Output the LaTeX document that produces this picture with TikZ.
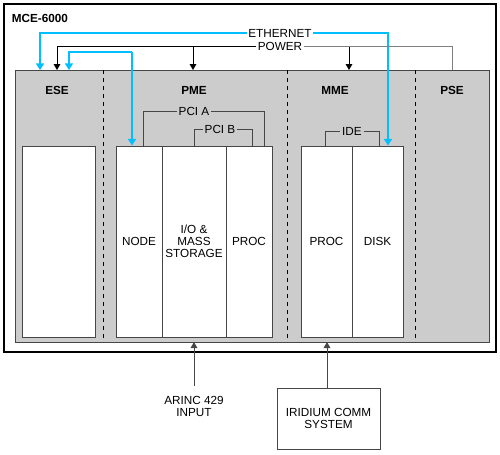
\documentclass[tikz,border=0pt]{standalone}
\usepackage{fontspec}
\setmainfont{Liberation Sans}
\usetikzlibrary{arrows.meta}
\definecolor{ethblue}{RGB}{0,190,255}
\definecolor{bay}{RGB}{204,204,204}
\definecolor{edge}{RGB}{70,70,70}
\tikzset{every picture/.style={line width=0.75pt}}
\tikzset{
  txt/.style={inner sep=1pt, align=center, font=\fontsize{8.8}{9}\selectfont},
  head/.style={txt, font=\fontsize{8.8}{9}\selectfont\bfseries},
  cell/.style={txt, draw=edge, fill=white, minimum height=143.25pt},
  bus/.style={draw=edge},
  eth/.style={draw=ethblue, line width=1.5pt, -{Triangle[length=5pt,width=6pt]}},
  pwr/.style={-{Triangle[length=4.5pt,width=5pt]}},
}

\begin{document}
\begin{tikzpicture}[x=0.75pt,y=0.75pt,yscale=-1,xscale=1]
\useasboundingbox (0,0) rectangle (500,454);

%Outer enclosure
\draw [line width=1.5pt] (4,4) rectangle (496,352);
\draw (10,18) node [head, anchor=west] (mce) {MCE-6000};

%Chassis bays
\draw [draw=edge, fill=bay] (15,70) rectangle (489,342);
\coordinate (top) at (15,70);
\coordinate (bot) at (15,342);
\draw [dashed] (103,70) -- (103,342);
\draw [dashed] (287,70) -- (287,342);
\draw [dashed] (415,70) -- (415,342);

% Bay headings
\draw (57,90) node [head] (ese) {ESE};
\draw (194,90) node [head] (pme) {PME};
\draw (335,90) node [head] (mme) {MME};
\draw (452,90) node [head] (pse) {PSE};

% Cards
\draw (58.5,241.5) node [cell, minimum width=54.75pt] (esecard) {};
\draw (139,241.5) node [cell, minimum width=34.5pt] (nodecard) {NODE};
\draw (194,241.5) node [cell, minimum width=48pt] (iocard) {I/O \&\\MASS\\STORAGE};
\draw (249,241.5) node [cell, minimum width=34.5pt] (proccard) {PROC};
\draw (326.5,241.5) node [cell, minimum width=38.25pt] (mproc) {PROC};
\draw (377.5,241.5) node [cell, minimum width=38.25pt] (disk) {DISK};

% Buses
\draw (194,111) node [txt] (pcia) {PCI A};
\draw (220,129) node [txt] (pcib) {PCI B};
\draw (352,131) node [txt] (ide) {IDE};
\draw [bus] (pcia.west) -| (nodecard.north -| 143,0);
\draw [bus] (pcia.east) -| (proccard.north -| 264,0);
\draw [bus] (pcib.west) -| (iocard.north -| 194,0);
\draw [bus] (pcib.east) -| (proccard.north -| 252,0);
\draw [bus] (ide.west) -| (mproc.north -| 325,0);
\draw [bus] (ide.east) -| (disk.north -| 379,0);

% Ethernet and power
\draw (280,33) node [txt] (ethernet) {ETHERNET};
\draw (280,46) node [txt] (power) {POWER};
\coordinate (hub) at (132,52);
\draw [eth] (ethernet.west) -| (top -| 40,0);
\draw [eth] (ethernet.east) -| (disk.north -| 388,0);
\draw [eth] (hub) -| (top -| 69,0);
\draw [eth] (hub) -- (nodecard.north -| hub);
\draw [pwr] (power.west) -| (top -| 57,0);
\draw [pwr] (power -| 193,0) -- (top -| 193,0);
\draw [pwr] (power -| 349,0) -- (top -| 349,0);
\draw [draw=gray] (power.east) -| (top -| 452,0);

% External inputs
\draw (194,406) node [txt] (arinc) {ARINC 429\\INPUT};
\draw (328.5,418.5) node [txt, draw=edge, minimum width=77.25pt, minimum height=45.75pt] (iridium) {IRIDIUM COMM\\SYSTEM};
\draw [bus, pwr, shorten <=6pt] (arinc.north) -- (bot -| arinc);
\draw [bus, pwr] (iridium.north -| 327,0) -- (bot -| 327,0);

\end{tikzpicture}
\end{document}
